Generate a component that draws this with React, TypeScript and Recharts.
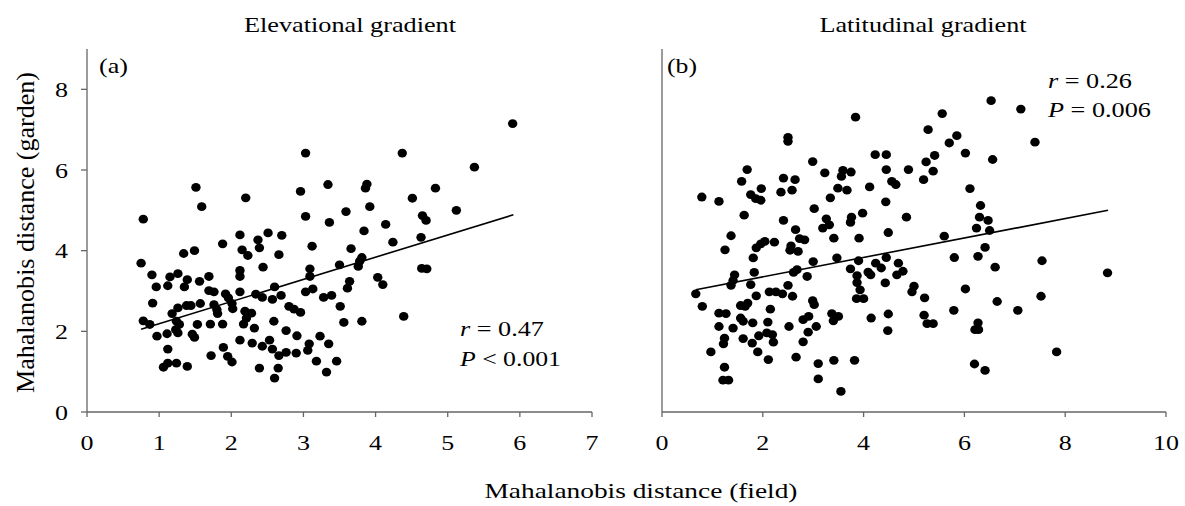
import React from "react";
import { ScatterChart, Scatter, XAxis, YAxis, ReferenceLine } from "recharts";

// ---------- Data ----------
const elevField: number[] = [
  5.90, 3.03, 4.37, 5.37, 1.51, 3.34, 3.88, 3.86, 4.83, 2.96, 2.20, 4.51, 1.59, 3.92, 5.12, 3.59,
  3.03, 0.78, 4.65, 4.70, 3.36, 4.14, 3.84, 2.12, 2.70, 2.51, 2.37, 4.63, 4.24, 1.88, 3.12, 2.39,
  2.15, 3.66, 1.49, 1.34, 2.23, 2.66, 0.75, 3.50, 2.44, 3.81, 3.78, 3.76, 4.64, 4.71, 3.09, 2.12,
  2.12, 1.69, 0.90, 1.26, 1.15, 4.03, 3.09, 1.56, 1.39, 3.64, 1.12, 0.96, 1.35, 4.10, 2.60, 3.13,
  3.61, 1.69, 1.76, 2.12, 3.03, 1.92, 2.34, 2.69, 3.39, 3.28, 1.96, 2.43, 2.57, 0.91, 1.76, 2.01,
  1.38, 1.57, 1.44, 3.51, 1.26, 2.80, 1.80, 2.02, 2.87, 2.96, 2.19, 2.28, 1.81, 1.18, 2.21, 0.78,
  3.81, 3.56, 2.59, 4.39, 1.24, 1.53, 1.71, 1.88, 2.17, 0.87, 1.28, 1.23, 2.32, 2.76, 1.26, 1.11,
  0.97, 1.46, 1.49, 2.91, 3.23, 2.12, 2.53, 2.29, 3.08, 3.35, 2.43, 1.89, 3.06, 2.57, 1.12, 2.76,
  2.90, 1.72, 1.95, 2.66, 2.01, 3.18, 3.46, 1.12, 1.24, 1.06, 1.39, 2.39, 2.65, 3.32, 2.60,
];
const elevGarden: number[] = [
  7.15, 6.42, 6.42, 6.07, 5.57, 5.64, 5.65, 5.55, 5.55, 5.47, 5.31, 5.30, 5.09, 5.09, 5.00, 4.97,
  4.85, 4.78, 4.87, 4.75, 4.70, 4.65, 4.49, 4.39, 4.38, 4.44, 4.27, 4.33, 4.21, 4.17, 4.11, 4.07,
  4.02, 4.05, 4.00, 3.93, 3.88, 3.90, 3.69, 3.65, 3.59, 3.83, 3.74, 3.61, 3.56, 3.55, 3.55, 3.51,
  3.36, 3.36, 3.40, 3.43, 3.35, 3.34, 3.36, 3.24, 3.28, 3.24, 3.13, 3.10, 3.10, 3.16, 3.10, 3.05,
  3.07, 3.01, 2.98, 2.98, 2.98, 2.93, 2.92, 2.89, 2.89, 2.84, 2.83, 2.84, 2.79, 2.70, 2.66, 2.69,
  2.64, 2.69, 2.64, 2.62, 2.58, 2.62, 2.54, 2.56, 2.55, 2.47, 2.50, 2.45, 2.44, 2.44, 2.33, 2.26,
  2.25, 2.22, 2.25, 2.37, 2.25, 2.17, 2.18, 2.18, 2.18, 2.17, 2.17, 2.04, 2.08, 2.02, 1.96, 1.94,
  1.88, 1.93, 1.85, 1.89, 1.88, 1.78, 1.78, 1.71, 1.69, 1.69, 1.63, 1.60, 1.53, 1.56, 1.56, 1.48,
  1.46, 1.40, 1.38, 1.40, 1.24, 1.26, 1.26, 1.21, 1.21, 1.11, 1.13, 1.09, 1.09, 0.99, 0.84,
];

const latField: number[] = [
  6.53, 7.12, 3.84, 5.56, 5.28, 2.50, 2.50, 5.85, 5.70, 7.40, 4.23, 4.45, 6.02, 5.41, 6.56, 2.99,
  5.24, 1.69, 4.89, 4.45, 3.59, 3.75, 3.23, 5.38, 3.56, 2.41, 2.64, 5.19, 1.58, 4.56, 4.64, 1.97,
  3.49, 4.12, 3.67, 6.11, 2.58, 2.36, 1.76, 0.79, 1.86, 1.96, 1.13, 3.34, 4.44, 6.32, 3.02, 1.63,
  3.98, 4.85, 3.76, 3.74, 3.26, 3.32, 3.19, 2.41, 6.30, 6.47, 6.24, 6.50, 4.49, 2.65, 1.37, 3.41,
  3.91, 5.60, 2.73, 2.83, 2.23, 2.04, 1.96, 1.87, 1.25, 2.56, 2.54, 2.70, 6.41, 1.81, 3.47, 5.80,
  6.27, 4.45, 3.00, 3.90, 7.54, 4.24, 4.69, 4.35, 2.68, 3.74, 4.78, 6.61, 8.84, 2.61, 1.83, 4.09,
  4.14, 4.66, 3.87, 1.44, 2.88, 1.41, 3.87, 4.43, 1.37, 1.76, 2.50, 5.00, 6.02, 3.93, 4.96, 2.13,
  2.26, 2.39, 0.67, 1.87, 2.59, 5.21, 7.52, 3.86, 4.00, 2.99, 3.02, 0.80, 1.56, 1.70, 1.65, 6.65,
  2.15, 5.79, 7.06, 1.13, 1.27, 3.37, 3.50, 4.49, 5.20, 2.91, 1.56, 1.61, 2.80, 3.40, 2.10, 1.80,
  3.06, 2.52, 1.13, 5.26, 5.38, 6.27, 6.21, 6.28, 1.41, 4.48, 2.90, 1.92, 2.08, 2.19, 1.61, 1.24,
  1.79, 1.22, 2.21, 2.80, 0.97, 1.90, 7.83, 2.66, 2.11, 3.41, 3.82, 3.10, 6.20, 1.24, 6.41, 1.21,
  1.32, 3.10, 3.55, 4.15,
];
const latGarden: number[] = [
  7.72, 7.51, 7.31, 7.40, 7.00, 6.81, 6.71, 6.85, 6.67, 6.69, 6.38, 6.38, 6.42, 6.36, 6.26, 6.21,
  6.20, 6.01, 6.01, 6.01, 5.99, 5.95, 5.93, 5.97, 5.84, 5.80, 5.76, 5.76, 5.72, 5.72, 5.64, 5.54,
  5.55, 5.58, 5.50, 5.54, 5.50, 5.45, 5.39, 5.33, 5.29, 5.25, 5.22, 5.31, 5.21, 5.12, 5.04, 4.88,
  4.93, 4.83, 4.83, 4.70, 4.79, 4.64, 4.56, 4.75, 4.83, 4.75, 4.56, 4.50, 4.45, 4.52, 4.37, 4.31,
  4.31, 4.36, 4.30, 4.27, 4.21, 4.23, 4.17, 4.07, 4.02, 4.12, 4.01, 3.98, 4.08, 3.82, 3.82, 3.83,
  3.86, 3.83, 3.73, 3.75, 3.75, 3.69, 3.69, 3.57, 3.53, 3.55, 3.49, 3.59, 3.45, 3.46, 3.46, 3.47,
  3.40, 3.40, 3.38, 3.40, 3.36, 3.26, 3.21, 3.20, 3.14, 3.16, 3.14, 3.12, 3.05, 3.03, 2.98, 2.98,
  2.98, 2.93, 2.93, 2.88, 2.87, 2.83, 2.87, 2.81, 2.81, 2.76, 2.66, 2.62, 2.64, 2.70, 2.62, 2.74,
  2.55, 2.52, 2.52, 2.45, 2.44, 2.44, 2.37, 2.43, 2.40, 2.37, 2.33, 2.25, 2.29, 2.26, 2.23, 2.21,
  2.12, 2.12, 2.12, 2.19, 2.19, 2.21, 2.04, 2.04, 2.08, 2.02, 1.98, 1.89, 1.96, 1.92, 1.82, 1.83,
  1.71, 1.69, 1.73, 1.74, 1.49, 1.49, 1.49, 1.36, 1.30, 1.28, 1.28, 1.20, 1.19, 1.11, 1.03, 0.79,
  0.79, 0.82, 0.51, 2.33,
];

const elevTicksX = [0, 1, 2, 3, 4, 5, 6, 7];
const latTicksX = [0, 2, 4, 6, 8, 10];
const ticksY = [0, 2, 4, 6, 8];

// fitted regression segments (field, garden)
const elevFit = [
  { x: 0.75, y: 2.05 },
  { x: 5.91, y: 4.89 },
];
const latFit = [
  { x: 0.67, y: 3.03 },
  { x: 8.85, y: 5.0 },
];

const elevData = elevField.map((x, i) => ({ x, y: elevGarden[i] }));
const latData = latField.map((x, i) => ({ x, y: latGarden[i] }));

// ---------- Styles ----------
const FONT = "Liberation Serif, Times New Roman, Times, serif";
const fontStyle = { fontFamily: FONT };
const AXIS = "#666666";
const STRETCH = 1.18;

const Dot = (props: any) => {
  const { cx, cy } = props;
  if (cx == null || cy == null) return null;
  return <ellipse cx={cx} cy={cy} rx={4.7} ry={4.4} fill="#000" />;
};

const XTick = (props: any) => {
  const { x, y, payload } = props;
  return (
    <text
      transform={`translate(${x},${y}) scale(${STRETCH},1)`}
      x={0}
      y={0}
      dy={16}
      textAnchor="middle"
      style={fontStyle}
      fontSize={22}
      fill="#000"
    >
      {payload.value}
    </text>
  );
};

const YTick = (props: any) => {
  const { x, y, payload } = props;
  return (
    <text
      transform={`translate(${x},${y}) scale(${STRETCH},1)`}
      x={0}
      y={0}
      dy={7.5}
      textAnchor="end"
      style={fontStyle}
      fontSize={22}
      fill="#000"
    >
      {payload.value}
    </text>
  );
};

const axisLine = { stroke: AXIS, strokeWidth: 1.3 };
const tickLine = { stroke: AXIS, strokeWidth: 1.3 };

export default function App() {
  return (
    <div
      style={{
        position: "absolute",
        left: 0,
        top: 0,
        width: 1185,
        height: 506,
        background: "#fff",
        overflow: "hidden",
        fontFamily: FONT,
      }}
    >
      <div style={{ position: "absolute", left: 0, top: 0 }}>
        <ScatterChart width={620} height={506} margin={{ top: 49, right: 28, bottom: 64, left: 0 }}>
          <XAxis
            type="number"
            dataKey="x"
            domain={[0, 7]}
            ticks={elevTicksX}
            interval={0}
            height={30}
            tickSize={5}
            tickMargin={17}
            axisLine={axisLine}
            tickLine={tickLine}
            tick={<XTick />}
          />
          <YAxis
            type="number"
            dataKey="y"
            domain={[0, 9]}
            ticks={ticksY}
            interval={0}
            width={87}
            tickSize={6}
            tickMargin={13}
            axisLine={axisLine}
            tickLine={tickLine}
            tick={<YTick />}
          />
          <Scatter data={elevData} shape={<Dot />} isAnimationActive={false} />
          <ReferenceLine segment={elevFit} stroke="#000" strokeWidth={1.6} />
        </ScatterChart>
      </div>
      <div style={{ position: "absolute", left: 620, top: 0 }}>
        <ScatterChart width={565} height={506} margin={{ top: 49, right: 19, bottom: 64, left: 0 }}>
          <XAxis
            type="number"
            dataKey="x"
            domain={[0, 10]}
            ticks={latTicksX}
            interval={0}
            height={30}
            tickSize={5}
            tickMargin={17}
            axisLine={axisLine}
            tickLine={tickLine}
            tick={<XTick />}
          />
          <YAxis
            type="number"
            dataKey="y"
            domain={[0, 9]}
            ticks={ticksY}
            interval={0}
            width={42}
            tickSize={6}
            axisLine={axisLine}
            tickLine={tickLine}
            tick={false}
          />
          <Scatter data={latData} shape={<Dot />} isAnimationActive={false} />
          <ReferenceLine segment={latFit} stroke="#000" strokeWidth={1.6} />
        </ScatterChart>
      </div>
      <svg
        width={1185}
        height={506}
        style={{ position: "absolute", left: 0, top: 0, pointerEvents: "none", fontFamily: FONT }}
        fill="#000"
      >
        <text x={350} y={32} fontSize={22} textAnchor="middle" textLength={212} lengthAdjust="spacingAndGlyphs">
          Elevational gradient
        </text>
        <text x={923} y={32} fontSize={22} textAnchor="middle" textLength={207} lengthAdjust="spacingAndGlyphs">
          Latitudinal gradient
        </text>
        <text x={99} y={73} fontSize={22} textLength={29} lengthAdjust="spacingAndGlyphs">
          (a)
        </text>
        <text x={667} y={73} fontSize={22} textLength={30} lengthAdjust="spacingAndGlyphs">
          (b)
        </text>
        <text x={460} y={336} fontSize={22} textLength={84} lengthAdjust="spacingAndGlyphs">
          <tspan fontStyle="italic">r</tspan> = 0.47
        </text>
        <text x={460} y={366} fontSize={22} textLength={101} lengthAdjust="spacingAndGlyphs">
          <tspan fontStyle="italic">P</tspan> &lt; 0.001
        </text>
        <text x={1048} y={88} fontSize={22} textLength={84} lengthAdjust="spacingAndGlyphs">
          <tspan fontStyle="italic">r</tspan> = 0.26
        </text>
        <text x={1048} y={117} fontSize={22} textLength={103} lengthAdjust="spacingAndGlyphs">
          <tspan fontStyle="italic">P</tspan> = 0.006
        </text>
        <text x={641} y={498} fontSize={22} textAnchor="middle" textLength={313} lengthAdjust="spacingAndGlyphs">
          Mahalanobis distance (field)
        </text>
        <text
          transform="translate(34,232.5) rotate(-90)"
          x={0}
          y={0}
          fontSize={26}
          textAnchor="middle"
          textLength={321}
          lengthAdjust="spacingAndGlyphs"
        >
          Mahalanobis distance (garden)
        </text>
      </svg>
    </div>
  );
}
